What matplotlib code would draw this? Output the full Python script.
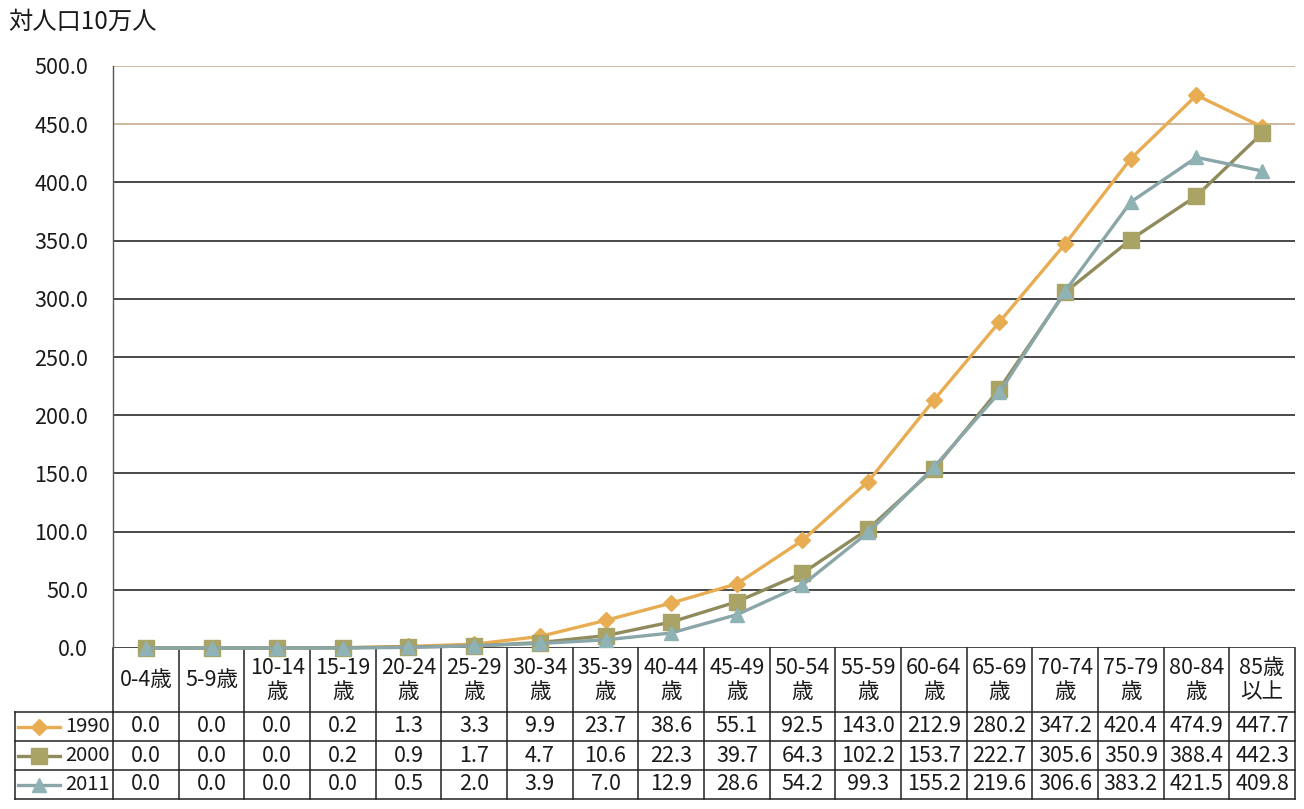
import matplotlib
matplotlib.use("Agg")
import matplotlib.pyplot as plt
import numpy as np

plt.rcParams['font.family'] = ['Noto Sans CJK JP', 'DejaVu Sans']

categories = ["0-4歳", "5-9歳", "10-14\n歳", "15-19\n歳", "20-24\n歳", "25-29\n歳", "30-34\n歳",
              "35-39\n歳", "40-44\n歳", "45-49\n歳", "50-54\n歳", "55-59\n歳", "60-64\n歳",
              "65-69\n歳", "70-74\n歳", "75-79\n歳", "80-84\n歳", "85歳\n以上"]
series_names = ["1990", "2000", "2011"]
v1990 = [0.0, 0.0, 0.0, 0.2, 1.3, 3.3, 9.9, 23.7, 38.6, 55.1, 92.5, 143.0, 212.9, 280.2, 347.2, 420.4, 474.9, 447.7]
v2000 = [0.0, 0.0, 0.0, 0.2, 0.9, 1.7, 4.7, 10.6, 22.3, 39.7, 64.3, 102.2, 153.7, 222.7, 305.6, 350.9, 388.4, 442.3]
v2011 = [0.0, 0.0, 0.0, 0.0, 0.5, 2.0, 3.9, 7.0, 12.9, 28.6, 54.2, 99.3, 155.2, 219.6, 306.6, 383.2, 421.5, 409.8]
yticks = [0, 50, 100, 150, 200, 250, 300, 350, 400, 450, 500]
ylabel = "対人口10万人"

series = [v1990, v2000, v2011]
line_colors = ["#E8AC52", "#8F8B5C", "#8AA6A8"]
marker_colors = ["#E8AC52", "#A9A466", "#8FB3B5"]
markers = ["D", "s", "^"]
msizes = [8, 11, 10]

FS = 15.5
W, H = 1304, 809
fig = plt.figure(figsize=(W / 100, H / 100), dpi=100)
left, right, top, bottom = 113, 1295, 66, 648
ax = fig.add_axes([left / W, 1 - bottom / H, (right - left) / W, (bottom - top) / H])

n = len(categories)
x = np.arange(n) + 0.5
ax.set_xlim(0, n)
ax.set_ylim(0, 500)

for yv in yticks:
    c = "#C9AD90" if yv >= 450 else "#2a2a2a"
    ax.axhline(yv, color=c, lw=1.2, zorder=1)

for s, lc, mc, m, ms in zip(series, line_colors, marker_colors, markers, msizes):
    ax.plot(x, s, color=lc, lw=2.4, marker=m, markersize=ms, markerfacecolor=mc,
            markeredgecolor=mc, zorder=3, clip_on=False)

for sp in ["top", "right", "bottom"]:
    ax.spines[sp].set_visible(False)
ax.spines["left"].set_color("#555555")
ax.spines["left"].set_linewidth(1.0)
ax.set_yticks(yticks)
ax.set_yticklabels([f"{v:.1f}" for v in yticks], fontsize=FS, color="#1a1a1a")
ax.tick_params(axis="y", length=0, pad=18)
ax.set_xticks([])

fig.text(8 / W, 1 - 22 / H, ylabel, fontsize=17.5, color="#1a1a1a", va="center", ha="left")

# data table below the plot
ph = bottom - top
hdr = 64 / ph
rh = 29 / ph
tr = ax.get_xaxis_transform()
lw = 1.1
tc = "#222222"
for i in range(n + 1):
    ax.plot([i, i], [0, -hdr - 3 * rh], transform=tr, color=tc, lw=lw, clip_on=False)
ax.plot([0, n], [-hdr, -hdr], transform=tr, color=tc, lw=lw, clip_on=False)
for i, c in enumerate(categories):
    ax.text(i + 0.5, -hdr / 2, c, transform=tr, ha="center", va="center", fontsize=FS,
            color="#1a1a1a", linespacing=1.15, clip_on=False)
px = n / (right - left)
lx0 = (15 - left) * px
ax.plot([lx0, 0], [-hdr, -hdr], transform=tr, color=tc, lw=lw, clip_on=False)
ax.plot([lx0, lx0], [-hdr, -hdr - 3 * rh], transform=tr, color=tc, lw=lw, clip_on=False)
for r in range(3):
    yb = -hdr - (r + 1) * rh
    ax.plot([lx0, n], [yb, yb], transform=tr, color=tc, lw=lw, clip_on=False)
    yc = -hdr - (r + 0.5) * rh
    l0 = (18 - left) * px
    l1 = (60 - left) * px
    ax.plot([l0, l1], [yc, yc], transform=tr, color=line_colors[r], lw=2.4, clip_on=False)
    ax.plot([(l0 + l1) / 2], [yc], transform=tr, marker=markers[r], markersize=msizes[r],
            color=marker_colors[r], clip_on=False)
    ax.text(-3 * px, yc, series_names[r], transform=tr, ha="right", va="center",
            fontsize=FS - 1, color="#1a1a1a", clip_on=False)
    for i, v in enumerate(series[r]):
        ax.text(i + 0.5, yc, f"{v:.1f}", transform=tr, ha="center", va="center",
                fontsize=FS, color="#1a1a1a", clip_on=False)

fig.savefig("out.png", dpi=100, facecolor="white")
